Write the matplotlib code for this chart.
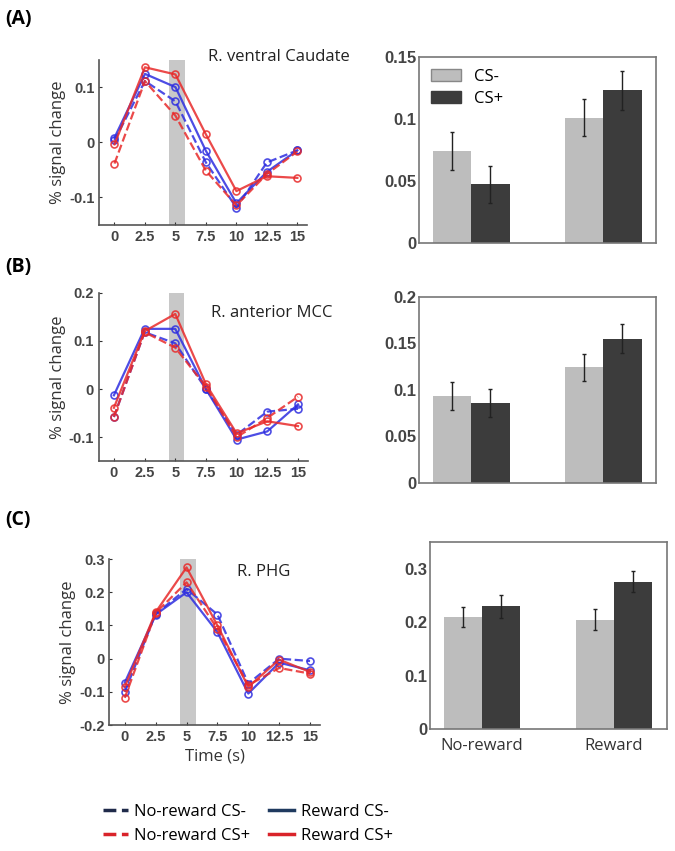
import matplotlib.pyplot as plt
from matplotlib.lines import Line2D
from matplotlib.patches import Patch
import numpy as np

plt.rcParams['font.family'] = ['Liberation Sans', 'DejaVu Sans']

# time points (s)
time = [0, 2.5, 5, 7.5, 10, 12.5, 15]
time_labels = ['0', '2.5', '5', '7.5', '10', '12.5', '15']

# --- (A) R. ventral Caudate
a_nr_csm = [0.003, 0.111, 0.074, -0.037, -0.119, -0.037, -0.015]
a_r_csm = [0.008, 0.124, 0.100, -0.016, -0.111, -0.054, -0.015]
a_nr_csp = [-0.039, 0.111, 0.048, -0.052, -0.115, -0.058, -0.017]
a_r_csp = [-0.004, 0.136, 0.123, 0.014, -0.089, -0.062, -0.065]

# --- (B) R. anterior MCC
b_nr_csm = [-0.058, 0.118, 0.095, 0.000, -0.095, -0.047, -0.041]
b_r_csm = [-0.013, 0.125, 0.125, 0.000, -0.105, -0.088, -0.032]
b_nr_csp = [-0.058, 0.118, 0.086, 0.005, -0.100, -0.060, -0.016]
b_r_csp = [-0.039, 0.120, 0.156, 0.010, -0.092, -0.067, -0.077]

# --- (C) R. PHG
c_nr_csm = [-0.100, 0.135, 0.210, 0.133, -0.075, -0.000, -0.007]
c_r_csm = [-0.072, 0.133, 0.200, 0.080, -0.105, -0.012, -0.035]
c_nr_csp = [-0.118, 0.138, 0.230, 0.090, -0.080, -0.028, -0.045]
c_r_csp = [-0.085, 0.140, 0.275, 0.100, -0.085, -0.003, -0.040]

regions = ['R. ventral Caudate', 'R. anterior MCC', 'R. PHG']
panel_tags = ['(A)', '(B)', '(C)']

# bar charts: mean signal change
groups = ['No-reward', 'Reward']
bar_csm = [[0.074, 0.101], [0.093, 0.124], [0.210, 0.205]]
bar_csp = [[0.047, 0.123], [0.086, 0.155], [0.230, 0.276]]
err_csm = [[0.015, 0.015], [0.015, 0.015], [0.019, 0.019]]
err_csp = [[0.015, 0.0155], [0.015, 0.0155], [0.021, 0.020]]

line_ticks = [[-0.1, 0, 0.1], [-0.1, 0, 0.1, 0.2], [-0.2, -0.1, 0, 0.1, 0.2, 0.3]]
line_ticklabels = [['-0.1', '0', '0.1'], ['-0.1', '0', '0.1', '0.2'],
                   ['-0.2', '-0.1', '0', '0.1', '0.2', '0.3']]
line_ylims = [(-0.15, 0.15), (-0.15, 0.2), (-0.2, 0.3)]

bar_ticks = [[0, 0.05, 0.1, 0.15], [0, 0.05, 0.1, 0.15, 0.2], [0, 0.1, 0.2, 0.3]]
bar_ticklabels = [['0', '0.05', '0.1', '0.15'], ['0', '0.05', '0.1', '0.15', '0.2'],
                  ['0', '0.1', '0.2', '0.3']]
bar_ylims = [(0, 0.15), (0, 0.2), (0, 0.35)]

series = [
    [a_nr_csm, a_r_csm, a_nr_csp, a_r_csp],
    [b_nr_csm, b_r_csm, b_nr_csp, b_r_csp],
    [c_nr_csm, c_r_csm, c_nr_csp, c_r_csp],
]

blue = '#2e2ee0'
red = '#e82a2a'
styles = [(blue, '--'), (blue, '-'), (red, '--'), (red, '-')]

fig = plt.figure(figsize=(6.75, 8.51), dpi=100)

# axes positions in figure fraction
line_pos = [[0.147, 0.736, 0.308, 0.194],
            [0.146, 0.458, 0.310, 0.198],
            [0.162, 0.148, 0.312, 0.195]]
bar_pos = [[0.621, 0.715, 0.351, 0.218],
           [0.621, 0.433, 0.351, 0.218],
           [0.637, 0.143, 0.351, 0.220]]
tag_y = [0.978, 0.686, 0.389]
title_xy = [(0.413, 0.933), (0.402, 0.632), (0.39, 0.328)]

tick_color = '#333333'
label_font = ['Open Sans', 'DejaVu Sans']

for i in range(3):
    ax = fig.add_axes(line_pos[i])
    ax.axvspan(4.5, 5.75, color='#c8c8c8', lw=0, zorder=0)
    for (col, ls), vals in zip(styles, series[i]):
        ax.plot(time, vals, color=col, ls=ls, lw=1.6, marker='o', ms=5,
                mfc='none', mew=1.2, alpha=0.85)
    ax.set_xlim(-1.25, 15.8)
    ax.set_ylim(*line_ylims[i])
    ax.set_xticks(time)
    ax.set_xticklabels(time_labels)
    ax.set_yticks(line_ticks[i])
    ax.set_yticklabels(line_ticklabels[i])
    for s in ['top', 'right']:
        ax.spines[s].set_visible(False)
    for s in ['left', 'bottom']:
        ax.spines[s].set_color('#555555')
        ax.spines[s].set_linewidth(1.2)
    ax.tick_params(direction='in', length=2, labelsize=10.5, colors=tick_color)
    for lab in ax.get_xticklabels() + ax.get_yticklabels():
        lab.set_fontweight('bold')
        lab.set_color('#444444')
    ax.set_ylabel('% signal change', fontsize=12, family=label_font, color='#333333',
                  labelpad=2)
    if i == 2:
        ax.set_xlabel('Time (s)', fontsize=12, family=label_font, color='#333333',
                      labelpad=3)
    fig.text(title_xy[i][0], title_xy[i][1], regions[i], fontsize=12,
             family=label_font, color='#222222', ha='center', va='center')
    fig.text(0.008, tag_y[i], panel_tags[i], fontsize=14, fontweight='bold',
             family=label_font, va='center')

    # bar chart
    bx = fig.add_axes(bar_pos[i])
    pos = np.arange(1, len(groups) + 1)
    w = 0.29
    bx.bar(pos - w / 2, bar_csm[i], w, color='#bdbdbd', label='CS-')
    bx.bar(pos + w / 2, bar_csp[i], w, color='#3c3c3c', label='CS+')
    bx.errorbar(pos - w / 2, bar_csm[i], yerr=err_csm[i], fmt='none',
                ecolor='#222222', elinewidth=1, capsize=1.2)
    bx.errorbar(pos + w / 2, bar_csp[i], yerr=err_csp[i], fmt='none',
                ecolor='#222222', elinewidth=1, capsize=1.2)
    bx.set_xlim(0.605, 2.4)
    bx.set_ylim(*bar_ylims[i])
    bx.set_yticks(bar_ticks[i])
    bx.set_yticklabels(bar_ticklabels[i])
    bx.set_xticks(pos)
    if i == 2:
        bx.set_xticklabels(groups, fontsize=12, family=label_font, color='#333333')
    else:
        bx.set_xticklabels([])
    bx.tick_params(axis='x', length=0, pad=6)
    bx.tick_params(axis='y', length=0, labelsize=12, colors='#444444', pad=2)
    for lab in bx.get_yticklabels():
        lab.set_fontweight('bold')
    for s in bx.spines.values():
        s.set_color('#777777')
        s.set_linewidth(1.2)
    if i == 0:
        bx.legend(handles=[Patch(facecolor='#bdbdbd', edgecolor='#888888', label='CS-'),
                           Patch(facecolor='#3c3c3c', edgecolor='#3c3c3c', label='CS+')],
                  loc='upper left', frameon=False,
                  prop={'family': label_font, 'size': 12},
                  handlelength=1.8, handleheight=0.7, borderaxespad=0.3,
                  labelspacing=0.35)

legend_handles = [
    Line2D([], [], color='#1f2a4a', ls='--', lw=2.5, label='No-reward CS-'),
    Line2D([], [], color='#d9232a', ls='--', lw=2.5, label='No-reward CS+'),
    Line2D([], [], color='#1f3a5f', ls='-', lw=2.5, label='Reward CS-'),
    Line2D([], [], color='#d9232a', ls='-', lw=2.5, label='Reward CS+'),
]
fig.legend(handles=legend_handles, ncol=2, loc='center left',
           bbox_to_anchor=(0.13, 0.032), frameon=False,
           prop={'family': label_font, 'size': 12}, handlelength=1.5,
           columnspacing=1.1, labelspacing=0.5, handletextpad=0.4)

fig.savefig('out.png', dpi=100, facecolor='white')
